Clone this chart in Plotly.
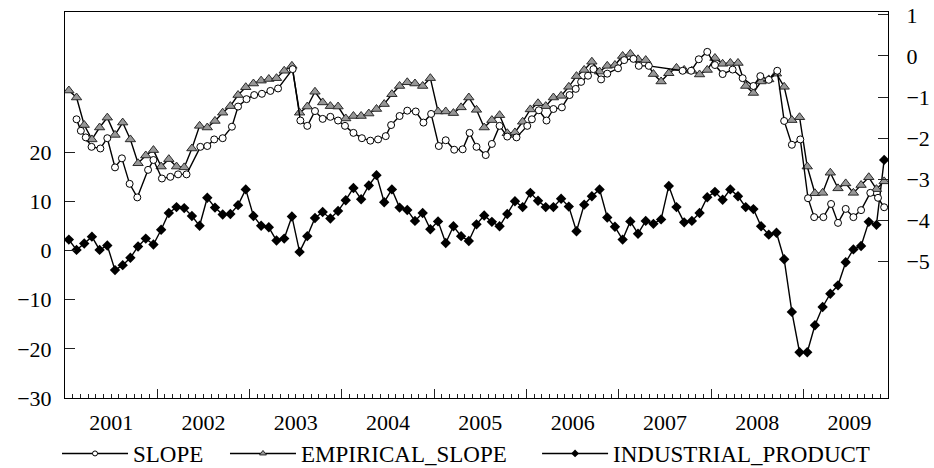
import plotly.graph_objects as go

# Monthly observations, Jan 2001 .. Nov 2009 (index 0 = Jan 2001)
years = list(range(2001, 2010))
n_months = 107
months = list(range(n_months))

industrial_product = [
    2.2, 0.1, 1.4, 2.8, 0.1, 1.0, -4.0, -3.0, -1.5, 0.8, 2.4, 1.2,
    4.2, 7.6, 8.8, 8.6, 7.0, 5.0, 10.7, 8.7, 7.3, 7.4, 9.2, 12.4,
    7.0, 5.0, 4.7, 2.0, 2.4, 6.9, -0.3, 2.9, 6.6, 7.8, 6.5, 8.0,
    10.2, 12.7, 10.4, 13.2, 15.3, 9.8, 12.4, 8.7, 8.2, 6.0, 7.6, 4.3,
    5.9, 1.5, 4.9, 2.9, 1.9, 5.3, 7.1, 5.8, 4.9, 7.4, 10.0, 8.8,
    11.7, 10.1, 8.8, 8.8, 10.5, 8.9, 3.9, 9.3, 11.0, 12.4, 6.7, 4.8,
    2.2, 5.9, 3.4, 6.0, 5.4, 6.3, 13.1, 8.8, 5.7, 6.0, 7.6, 10.8,
    11.9, 10.3, 12.4, 11.0, 8.8, 8.4, 4.9, 3.2, 3.6, -1.8, -12.5, -20.7,
    -20.7, -15.2, -11.5, -8.8, -7.1, -2.4, 0.2, 0.9, 5.8, 5.2, 18.4,
]

empirical_slope = [
    -0.84, -1.01, -1.68, -2.03, -1.74, -1.50, -1.92, -1.62, -2.03, -2.61, -2.42, -2.29,
    -2.69, -2.51, -2.69, -2.71, -2.25, -1.70, -1.74, -1.58, -1.38, -1.22, -0.95, -0.76,
    -0.67, -0.60, -0.56, -0.54, -0.36, -0.24, -1.38, -1.23, -0.87, -1.13, -1.22, -1.23,
    -1.52, -1.46, -1.46, -1.40, -1.29, -1.17, -0.93, -0.73, -0.64, -0.67, -0.73, -0.54,
    -1.35, -1.35, -1.39, -1.25, -1.01, -1.31, -1.74, -1.56, -1.44, -1.88, -1.86, -1.60,
    -1.30, -1.15, -1.22, -1.01, -0.97, -0.75, -0.49, -0.34, -0.14, -0.38, -0.24, -0.22,
    0.00, 0.05, -0.08, -0.10, -0.44, -0.62, -0.42, -0.29, -0.34, -0.36, -0.45, -0.34,
    -0.05, -0.19, -0.17, -0.17, -0.73, -0.90, -0.62, -0.57, -0.43, -0.75, -1.56, -1.49,
    -2.69, -3.34, -3.33, -2.84, -3.22, -3.10, -3.33, -3.14, -2.95, -3.24, -3.05,
]

# SLOPE is observed on its own (irregular) dates, given in months since Jan 2001
slope_t = [
    1.0, 1.56, 2.2, 2.95, 4.1, 5.0, 6.0, 6.9, 7.9, 8.9, 10.3, 11.0,
    12.1, 13.2, 14.2, 15.3, 17.1, 18.0, 18.9, 20.0, 21.2, 22.0, 23.1, 24.1,
    25.1, 26.2, 27.2, 29.1, 30.1, 31.0, 32.0, 33.0, 34.0, 35.0, 35.9, 37.0,
    38.1, 39.2, 40.2, 41.2, 41.9, 43.0, 44.0, 45.1, 46.1, 47.1, 48.1, 49.0,
    50.1, 51.2, 52.1, 53.0, 54.2, 55.0, 56.0, 57.0, 58.2, 59.6, 60.2, 61.1,
    62.1, 63.0, 64.1, 65.1, 65.9, 66.6, 67.5, 68.2, 69.2, 70.0, 71.4, 72.2,
    73.4, 74.1, 75.4, 79.8, 80.9, 81.9, 83.0, 84.0, 85.0, 86.3, 87.6, 89.0,
    89.9, 91.0, 92.1, 93.0, 94.0, 95.1, 96.1, 96.9, 98.1, 99.1, 100.0, 101.0,
    102.0, 103.0, 104.2, 105.2, 106.0,
]
slope = [
    -1.54, -1.82, -1.98, -2.21, -2.25, -2.00, -2.71, -2.49, -3.11, -3.44, -2.77, -2.53,
    -2.98, -2.94, -2.88, -2.88, -2.21, -2.19, -2.03, -2.00, -1.72, -1.23, -1.05, -0.95,
    -0.92, -0.85, -0.79, -0.32, -1.57, -1.70, -1.34, -1.53, -1.48, -1.57, -1.70, -1.87,
    -2.00, -2.06, -2.03, -1.95, -1.68, -1.46, -1.33, -1.35, -1.62, -1.41, -2.19, -2.05,
    -2.28, -2.27, -1.87, -2.21, -2.41, -2.14, -1.70, -1.96, -1.98, -1.70, -1.54, -1.32,
    -1.57, -1.29, -1.25, -0.95, -0.80, -0.63, -0.48, -0.32, -0.57, -0.43, -0.30, -0.10,
    -0.07, -0.24, -0.24, -0.36, -0.36, -0.08, 0.10, -0.22, -0.44, -0.33, -0.54, -0.73,
    -0.49, -0.58, -0.36, -1.58, -2.16, -2.03, -3.46, -3.92, -3.92, -3.60, -4.06, -3.72,
    -3.92, -3.75, -3.33, -3.45, -3.68,
]

left_ticks = [-30, -20, -10, 0, 10, 20]
right_ticks = [-5, -4, -3, -2, -1, 0, 1]

FONT = "Liberation Serif"
LINE = dict(color="black", width=1.4)

ip_marker = dict(symbol="diamond", size=8, color="black")
emp_marker = dict(symbol="triangle-up", size=9, color="#979797",
                  line=dict(color="#2a2a2a", width=1))
slope_marker = dict(symbol="circle", size=7, color="white",
                    line=dict(color="black", width=1))

fig = go.Figure()

fig.add_trace(go.Scatter(
    x=months, y=industrial_product, xaxis="x", yaxis="y",
    mode="lines+markers", line=LINE, marker=ip_marker,
    showlegend=False, name="INDUSTRIAL_PRODUCT"))
fig.add_trace(go.Scatter(
    x=months, y=empirical_slope, xaxis="x2", yaxis="y2",
    mode="lines+markers", line=LINE, marker=emp_marker,
    showlegend=False, name="EMPIRICAL_SLOPE"))
fig.add_trace(go.Scatter(
    x=slope_t, y=slope, xaxis="x2", yaxis="y2",
    mode="lines+markers", line=LINE, marker=slope_marker,
    showlegend=False, name="SLOPE"))

# legend keys: one legend box per series, small symbols
legend_items = [
    ("SLOPE", "legend",
     dict(symbol="circle", size=5, color="white", line=dict(color="black", width=1))),
    ("EMPIRICAL_SLOPE", "legend2",
     dict(symbol="triangle-up", size=6, color="#979797", line=dict(color="#2a2a2a", width=1))),
    ("INDUSTRIAL_PRODUCT", "legend3",
     dict(symbol="diamond", size=6, color="black")),
]
for name, lg, mk in legend_items:
    fig.add_trace(go.Scatter(x=[None], y=[None], mode="lines+markers", name=name,
                             line=LINE, marker=mk, showlegend=True, legend=lg))

x_range = [-0.5, n_months - 0.5]
year_bounds = [(y - 2001) * 12 - 0.5 for y in years[1:]]
year_mids = [(y - 2001) * 12 + 5.5 for y in years]

legend_style = dict(
    orientation="h", xanchor="left", yref="container", y=0.031, yanchor="middle",
    font=dict(family=FONT, size=23), itemwidth=66,
    bgcolor="rgba(0,0,0,0)",
)

fig.update_layout(
    width=934, height=468,
    margin=dict(l=65, r=46, t=12, b=70, pad=0),
    paper_bgcolor="white", plot_bgcolor="white",
    font=dict(family=FONT, size=22, color="black"),
    xaxis=dict(
        range=x_range, domain=[0, 1], anchor="y", automargin=False,
        tickmode="array", tickvals=year_bounds, showticklabels=False,
        ticks="inside", ticklen=9, tickwidth=1, tickcolor="#222",
        minor=dict(ticks="inside", ticklen=4, tickwidth=1, tickcolor="#222",
                   tick0=-0.5, dtick=1),
        showline=True, linecolor="black", linewidth=1, mirror=True,
        showgrid=False, zeroline=False,
    ),
    xaxis2=dict(
        range=x_range, overlaying="x", anchor="y", side="bottom", automargin=False,
        tickmode="array", tickvals=year_mids, ticktext=[str(y) for y in years],
        ticks="", ticklabelstandoff=9, showline=False, showgrid=False, zeroline=False,
        tickfont=dict(family=FONT, size=22),
    ),
    yaxis=dict(
        range=[-30, 48.46], anchor="x", automargin=False,
        tickmode="array", tickvals=left_ticks,
        ticks="inside", ticklen=10, tickwidth=1, tickcolor="#222",
        ticklabelstandoff=8,
        showline=True, linecolor="black", linewidth=1,
        showgrid=False, zeroline=False,
        tickfont=dict(family=FONT, size=22),
    ),
    yaxis2=dict(
        range=[-8.32, 1.07], overlaying="y", anchor="x", side="right", automargin=False,
        tickmode="array", tickvals=right_ticks,
        ticks="inside", ticklen=10, tickwidth=1, tickcolor="#222",
        ticklabelstandoff=13,
        showline=True, linecolor="black", linewidth=1,
        showgrid=False, zeroline=False,
        tickfont=dict(family=FONT, size=22),
    ),
    legend=dict(x=-0.0097, **legend_style),
    legend2=dict(x=0.1944, **legend_style),
    legend3=dict(x=0.5736, **legend_style),
)

fig.write_html("out.html")
